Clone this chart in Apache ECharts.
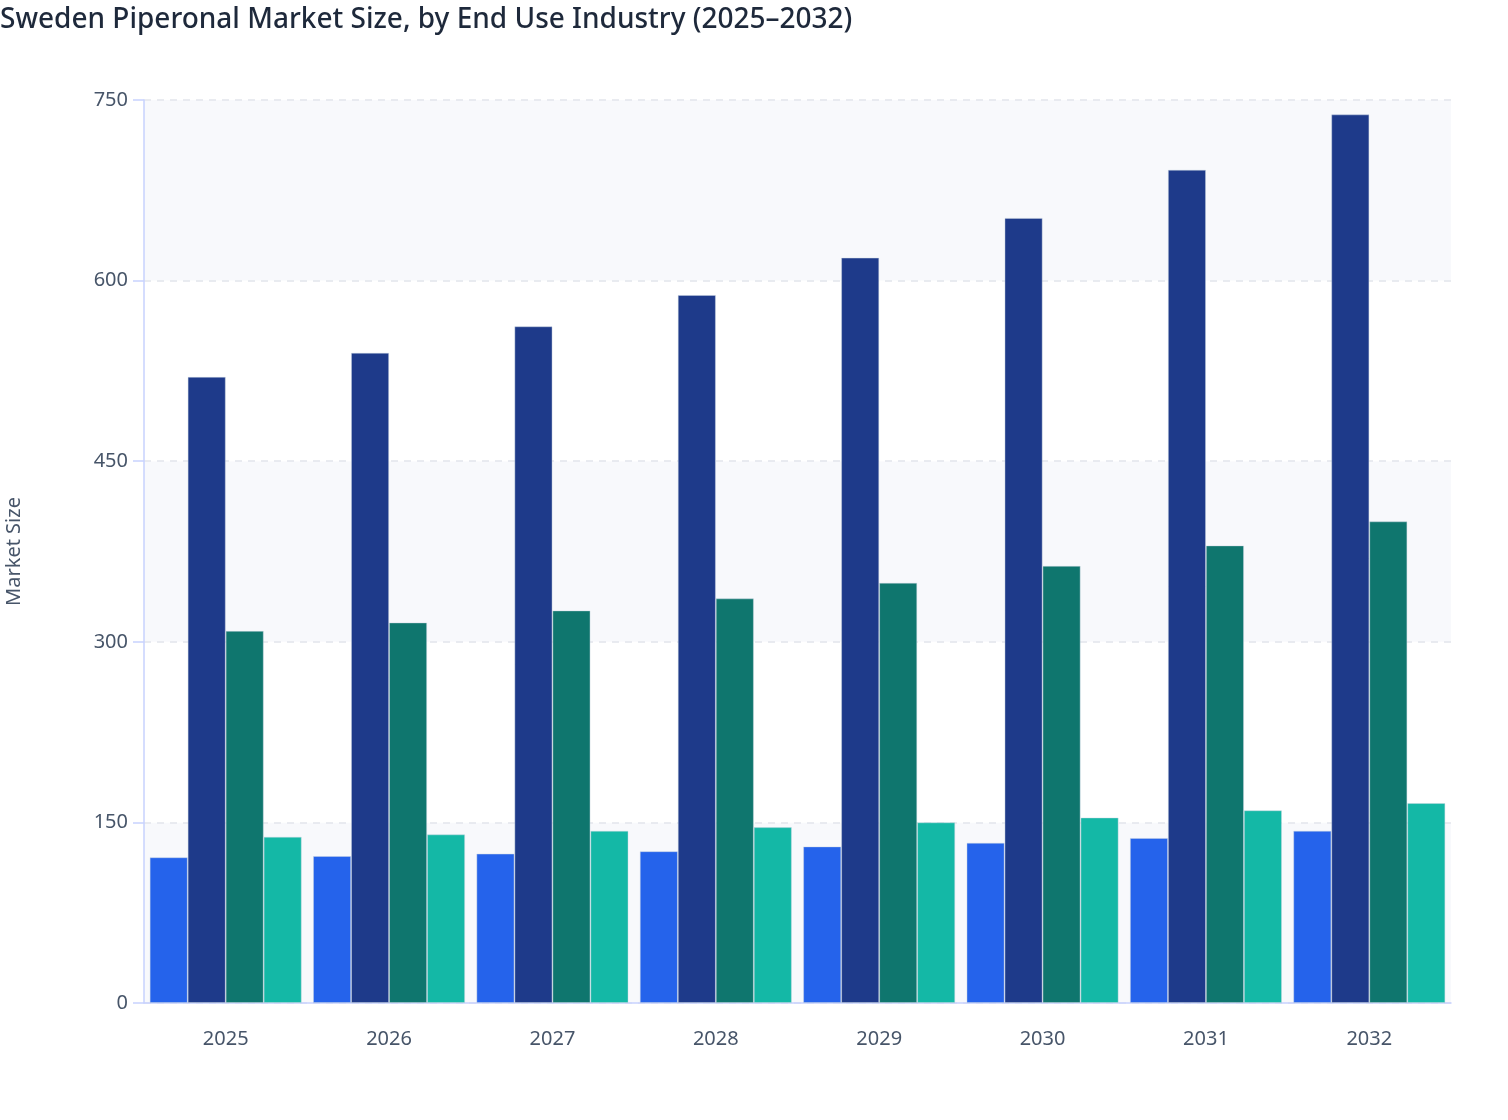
<!DOCTYPE html>
<html lang="en">
<head>
    <meta charset="UTF-8">
    <title>Sweden Piperonal Market Size</title>
    <script src="https://cdn.jsdelivr.net/npm/echarts@6/dist/echarts.min.js"></script>
    <style>
        html, body { margin: 0; padding: 0; background: #fff; }
        #chart { width: 1508px; height: 1120px; }
    </style>
</head>
<body>
<div id="chart"></div>
<script type="text/javascript">
    // data
    var years = ['2025', '2026', '2027', '2028', '2029', '2030', '2031', '2032'];
    var seriesNames = ['Segment 1', 'Segment 2', 'Segment 3', 'Segment 4'];
    var seg1 = [121, 122, 124, 126, 130, 133, 137, 143];
    var seg2 = [520, 540, 562, 588, 619, 652, 692, 738];
    var seg3 = [309, 316, 326, 336, 349, 363, 380, 400];
    var seg4 = [138, 140, 143, 146, 150, 154, 160, 166];
    var yTicks = [0, 150, 300, 450, 600, 750];

    var colors = ['#2563eb', '#1e3a8a', '#0f766e', '#14b8a6'];
    var values = [seg1, seg2, seg3, seg4];

    var myChart = echarts.init(document.getElementById('chart'));

    var series = [];
    for (var i = 0; i < values.length; i++) {
        series.push({
            name: seriesNames[i],
            type: 'bar',
            data: values[i],
            barGap: '0%',
            barCategoryGap: '7%',
            itemStyle: {
                color: colors[i],
                borderColor: 'rgba(203,213,225,0.55)',
                borderWidth: 0.8
            }
        });
    }

    var option = {
        backgroundColor: '#ffffff',
        textStyle: { fontFamily: 'Noto Sans' },
        title: {
            text: 'Sweden Piperonal Market Size, by End Use Industry (2025\u20132032)',
            left: -5,
            top: 1,
            textStyle: {
                fontFamily: 'Noto Sans',
                fontSize: 28,
                fontWeight: 500,
                color: '#1e293b'
            }
        },
        tooltip: { trigger: 'axis', axisPointer: { type: 'shadow' } },
        grid: { left: 144, right: 57, top: 100, bottom: 117, containLabel: false, outerBoundsMode: 'none' },
        xAxis: {
            type: 'category',
            data: years,
            axisLine: { lineStyle: { color: '#c7d2fe', width: 1.5 } },
            axisTick: { alignWithLabel: true, length: 11, lineStyle: { color: '#c7d2fe', width: 1.5 } },
            axisLabel: { color: '#475569', fontSize: 20, margin: 26 }
        },
        yAxis: {
            type: 'value',
            min: yTicks[0],
            max: yTicks[yTicks.length - 1],
            interval: yTicks[1] - yTicks[0],
            name: 'Market Size',
            nameLocation: 'middle',
            nameGap: 120,
            nameTextStyle: { color: '#475569', fontSize: 20 },
            axisLine: { show: true, lineStyle: { color: '#c7d2fe', width: 1.5 } },
            axisTick: { show: true, length: 11, lineStyle: { color: '#c7d2fe', width: 1.5 } },
            axisLabel: { color: '#475569', fontSize: 20, margin: 16 },
            splitLine: { lineStyle: { color: '#e2e5ec', type: [7, 6], width: 1.5 } },
            splitArea: { show: true, areaStyle: { color: ['#f8f9fc', '#ffffff'] } }
        },
        series: series
    };

    myChart.setOption(option);
</script>
</body>
</html>
